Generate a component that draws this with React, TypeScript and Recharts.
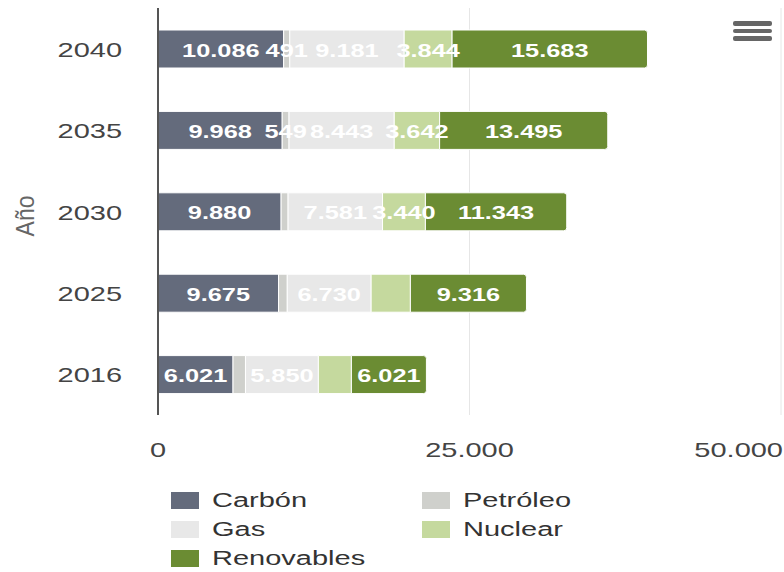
import { BarChart, Bar, XAxis, YAxis, CartesianGrid, Legend, LabelList } from 'recharts';

const years = ['2040', '2035', '2030', '2025', '2016'];
const carbon = [10086, 9968, 9880, 9675, 6021];
const petroleo = [491, 549, 560, 700, 1000];
const gas = [9181, 8443, 7581, 6730, 5850];
const nuclear = [3844, 3642, 3440, 3150, 2650];
const renovables = [15683, 13495, 11343, 9316, 6021];
const xTicks = [0, 25000, 50000];

// labels the original hides because they collide with their neighbours
const hiddenLabels: Record<string, string[]> = {
  petroleo: ['2030', '2025', '2016'],
  nuclear: ['2025', '2016'],
};

const series = [
  { key: 'carbon', name: 'Carbón', values: carbon },
  { key: 'petroleo', name: 'Petróleo', values: petroleo },
  { key: 'gas', name: 'Gas', values: gas },
  { key: 'nuclear', name: 'Nuclear', values: nuclear },
  { key: 'renovables', name: 'Renovables', values: renovables },
];

const colors: Record<string, string> = {
  carbon: '#646b7c',
  petroleo: '#cfd0cc',
  gas: '#e8e8e8',
  nuclear: '#c5d99e',
  renovables: '#6b8c33',
};

const data = years.map((year, i) => {
  const row: Record<string, any> = { year };
  series.forEach((s) => {
    row[s.key] = s.values[i];
    row[s.key + 'Label'] = hiddenLabels[s.key]?.includes(year) ? null : s.values[i];
  });
  return row;
});

const FONT = '"Liberation Sans", Arial, sans-serif';
const SX = 1.45; // the original text is drawn wide

const fmt = (v: number) => String(v).replace(/\B(?=(\d{3})+(?!\d))/g, '.');

const WideText = ({ x, y, anchor, size, weight, fill, children }: any) => (
  <g transform={`translate(${x},${y}) scale(${SX},1)`}>
    <text x={0} y={0} textAnchor={anchor} fontSize={size} fontWeight={weight} fill={fill} fontFamily={FONT}>
      {children}
    </text>
  </g>
);

const YTick = (p: any) => (
  <WideText x={p.x - 36} y={p.y + 8} anchor="end" size={20} fill="#444">
    {p.payload.value}
  </WideText>
);

const XTick = (p: any) => {
  const v = p.payload.value;
  const anchor = v === 50000 ? 'end' : 'middle';
  return (
    <WideText x={v === 50000 ? p.x + 2 : p.x} y={p.y + 42} anchor={anchor} size={20} fill="#444">
      {fmt(v)}
    </WideText>
  );
};

const renderBarLabel = (props: any) => {
  if (props.value == null) return null;
  const vb = props.viewBox ?? props;
  const { x, y, width, height } = vb;
  return (
    <WideText x={x + width / 2} y={y + height / 2 + 7.5} anchor="middle" size={17.5} weight="bold" fill="#fff">
      {fmt(props.value)}
    </WideText>
  );
};

const renderAxisTitle = (props: any) => {
  const vb = props.viewBox;
  const cy = vb.y + vb.height / 2 + 4.5;
  return (
    <g transform={`translate(${vb.x + 34},${cy}) rotate(-90) scale(1,1.15)`}>
      <text x={0} y={0} textAnchor="middle" fontSize={23} fill="#666" fontFamily={FONT}>
        Año
      </text>
    </g>
  );
};

const seriesOrder = series.map((s) => s.name);

const renderLegend = ({ payload }: any) => {
  const items = [...(payload || [])].sort(
    (a: any, b: any) => seriesOrder.indexOf(a.value) - seriesOrder.indexOf(b.value)
  );
  return (
    <div style={{ position: 'relative', width: 784, height: 87 }}>
      {items.map((entry: any, i: number) => {
        const col = i % 2;
        const row = Math.floor(i / 2);
        return (
          <div
            key={entry.value}
            style={{
              position: 'absolute',
              left: col === 0 ? 171 : 422,
              top: 7 + row * 29,
              height: 17,
              display: 'flex',
              alignItems: 'center',
            }}
          >
            <span style={{ display: 'inline-block', width: 28, height: 17, background: entry.color }} />
            <span
              style={{
                marginLeft: 13,
                fontSize: 20,
                lineHeight: '17px',
                color: '#333',
                fontFamily: FONT,
                whiteSpace: 'nowrap',
                transform: `scaleX(${SX})`,
                transformOrigin: 'left center',
              }}
            >
              {entry.value}
            </span>
          </div>
        );
      })}
    </div>
  );
};

export default function App() {
  return (
    <div style={{ position: 'absolute', left: 0, top: 0, width: 784, height: 572, background: '#fff' }}>
      <BarChart
        width={784}
        height={572}
        data={data}
        layout="vertical"
        margin={{ top: 8, right: 3, left: 0, bottom: 0 }}
        barSize={38}
      >
        <CartesianGrid horizontal={false} stroke="#e6e6e6" />
        <XAxis
          type="number"
          domain={[0, 50000]}
          ticks={xTicks}
          interval={0}
          height={70}
          axisLine={false}
          tickLine={false}
          tickSize={0}
          tickMargin={0}
          tick={XTick}
        />
        <YAxis
          type="category"
          dataKey="year"
          width={158}
          axisLine={{ stroke: '#555', strokeWidth: 2 }}
          tickLine={false}
          tickSize={0}
          tickMargin={0}
          tick={YTick}
          label={renderAxisTitle}
        />
        <Legend verticalAlign="bottom" height={87} width={784} wrapperStyle={{ left: 0 }} content={renderLegend} />
        {series.map((s) => (
          <Bar
            key={s.key}
            dataKey={s.key}
            name={s.name}
            stackId="a"
            fill={colors[s.key]}
            stroke="#fff"
            strokeWidth={1}
            radius={s.key === 'renovables' ? [0, 3, 3, 0] : 0}
            isAnimationActive={false}
          >
            <LabelList dataKey={s.key + 'Label'} content={renderBarLabel} />
          </Bar>
        ))}
      </BarChart>
      <div style={{ position: 'absolute', left: 733, top: 21 }}>
        {[0, 7.5, 15].map((t) => (
          <div
            key={t}
            style={{ position: 'absolute', left: 0, top: t, width: 39, height: 4.5, borderRadius: 2, background: '#666' }}
          />
        ))}
      </div>
    </div>
  );
}
